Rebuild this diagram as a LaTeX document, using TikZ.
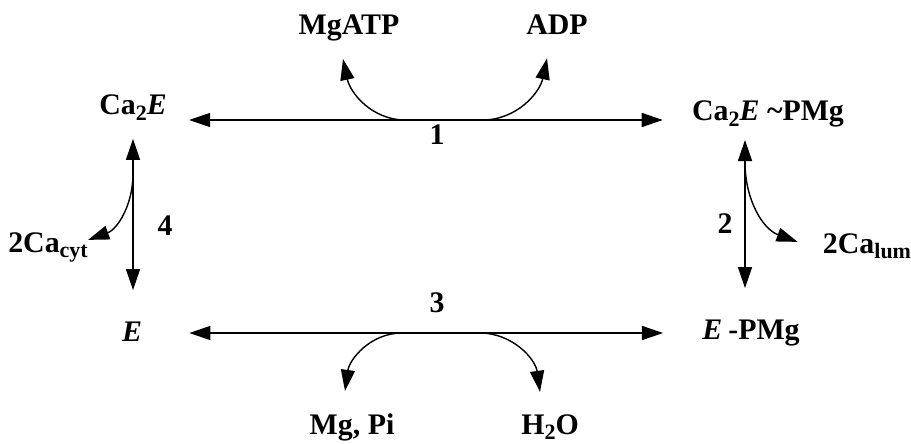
\documentclass[tikz,border=0pt]{standalone}
\usepackage{fontspec}
\setmainfont{Liberation Serif}
\usetikzlibrary{arrows.meta,calc}
\newcommand{\lowsub}[1]{\raisebox{-0.4ex}{\fontsize{12.5}{13}\selectfont #1}}
\tikzset{
  species/.style={font=\bfseries\fontsize{17}{20}\selectfont, inner sep=0pt, anchor=base},
  stepno/.style={font=\bfseries\fontsize{17}{20}\selectfont, inner sep=0pt, anchor=base},
  rxn/.style={line width=0.8pt, {Triangle[length=12pt,width=8pt]}-{Triangle[length=12pt,width=8pt]}},
  branch/.style={line width=0.8pt, -{Triangle[length=12pt,width=8pt]}},
}

\begin{document}
\begin{tikzpicture}[x=0.02cm,y=0.02cm]
			%%%%% START %%%%%
			\useasboundingbox (0,0) rectangle (911,443);
			
			\node[species] (ca2e) at (133,328) {Ca\lowsub{2}\textit{E}};
			\node[species] (ca2ep) at (768,322) {Ca\lowsub{2}\textit{E}\hspace{0.25em}\textasciitilde PMg};
			\node[species] (e) at (132,102) {\textit{E}};
			\node[species] (ep) at (751,104) {\textit{E}\hspace{0.2em}-PMg};
			
			\node[species] (mgatp) at (349,408) {MgATP};
			\node[species] (adp) at (557,408) {ADP};
			\node[species] (mgpi) at (352,9) {Mg, Pi};
			\node[species] (h2o) at (550,9) {H\lowsub{2}O};
			\node[species] (cacyt) at (48,191) {2Ca\lowsub{cyt}};
			\node[species] (calum) at (867,190) {2Ca\lowsub{lum}};
			
			\node[stepno] (s1) at (437,298) {1};
			\node[stepno] (s2) at (725,210) {2};
			\node[stepno] (s3) at (437,131) {3};
			\node[stepno] (s4) at (165,208) {4};
			
			% step 1
			\draw[rxn] ($(ca2e.base east)+(22,-5)$) -- ($(ca2e.base east -| ca2ep.base west)+(-29,-5)$)
				coordinate[pos=0.457] (j1a) coordinate[pos=0.619] (j1b);
			\draw[branch] (j1a) to[out=180, in=-78] ($(mgatp.south)+(-6,-17)$);
			\draw[branch] (j1b) to[out=0, in=-102] ($(adp.south)+(-10,-23)$);
			
			% step 2
			\draw[rxn] ($(ca2ep.south)+(-23,-12)$) -- ($(ca2ep.south |- ep.north)+(-23,31)$)
				coordinate[pos=0.15] (j2);
			\draw[branch] (j2) to[out=-90, in=160] ($(calum.north west)+(-25,-9)$);
			
			% step 3
			\draw[rxn] ($(e.base east)+(47,8)$) -- ($(e.base east -| ep.base west)+(-39,8)$)
				coordinate[pos=0.449] (j3a) coordinate[pos=0.613] (j3b);
			\draw[branch] (j3a) to[out=180, in=82] ($(mgpi.north)+(-7,22)$);
			\draw[branch] (j3b) to[out=0, in=98] ($(h2o.north)+(-10,22)$);
			
			% step 4
			\draw[rxn] ($(ca2e.south)+(0,-18)$) -- ($(ca2e.south |- e.north)+(0,31)$)
				coordinate[pos=0.23] (j4);
			\draw[branch] (j4) to[out=-90, in=20] ($(cacyt.north east)+(0,-8)$);
			
			%%%%% END %%%%%
\end{tikzpicture}
\end{document}
